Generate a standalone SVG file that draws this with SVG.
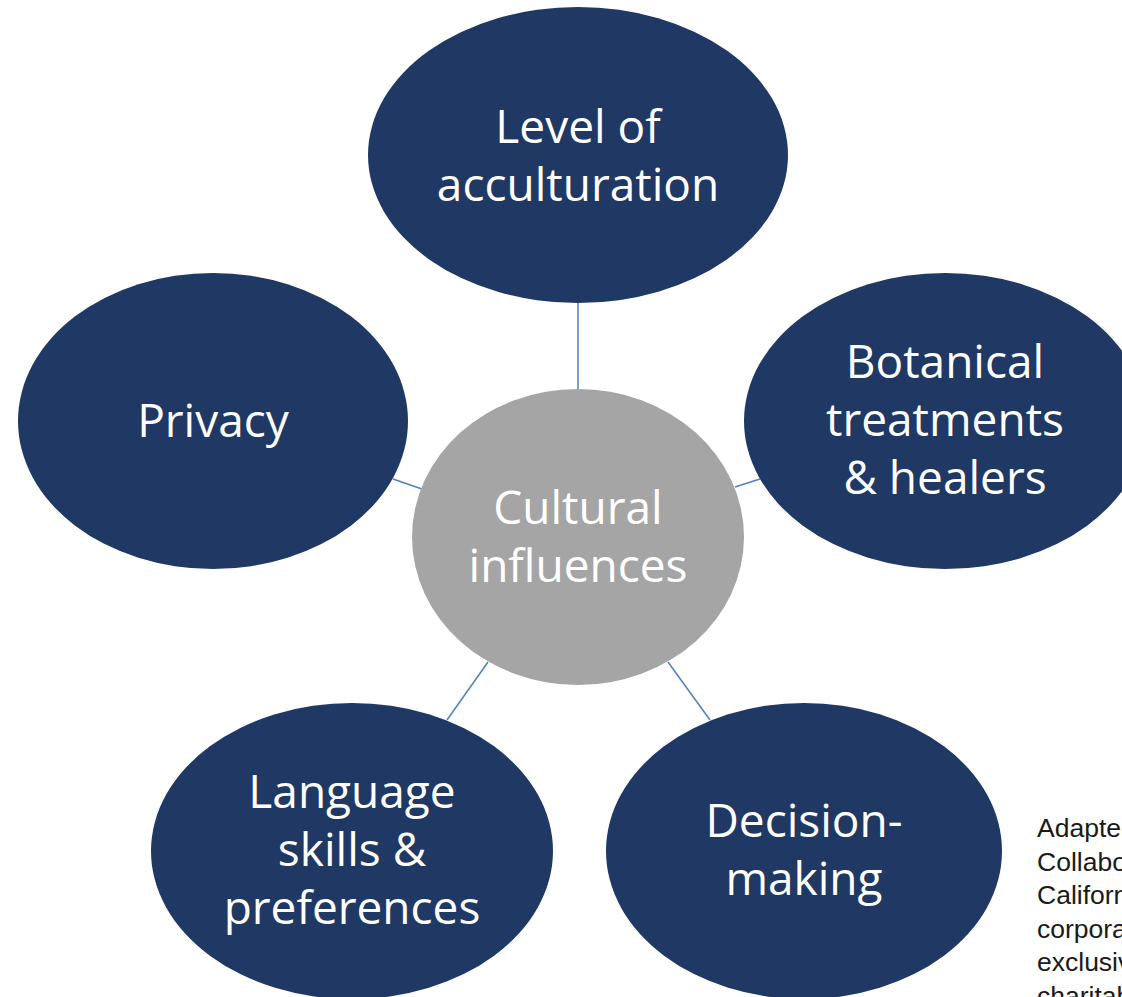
<svg xmlns="http://www.w3.org/2000/svg" width="1122" height="997" viewBox="0 0 1122 997">
<style>
.n{fill:#203864}
.c{fill:#A5A5A5}
.t{font-family:"Open Sans",sans-serif;font-size:46px;fill:#fff;text-anchor:middle}
.f{font-family:"Liberation Sans",Arial,sans-serif;font-size:26.5px;fill:#1a1a1a}
#connectors line{stroke:#4F81BD;stroke-width:1.5}
</style>
<rect width="1122" height="997" fill="#fff"/>
<g id="connectors">
<line x1="578" y1="303" x2="578" y2="390"/>
<line x1="393" y1="479" x2="422" y2="489"/>
<line x1="735" y1="487" x2="760" y2="479"/>
<line x1="488" y1="662" x2="447" y2="720"/>
<line x1="668" y1="662" x2="710" y2="720"/>
</g>
<g id="level">
<ellipse class="n" cx="578" cy="155" rx="210" ry="148"/>
<text class="t" x="578" y="143">Level of</text>
<text class="t" x="578" y="201">acculturation</text>
</g>
<g id="privacy">
<ellipse class="n" cx="213" cy="421" rx="195" ry="148"/>
<text class="t" x="213" y="437">Privacy</text>
</g>
<g id="botanical">
<ellipse class="n" cx="945" cy="421" rx="201" ry="148"/>
<text class="t" x="945" y="378">Botanical</text>
<text class="t" x="945" y="436">treatments</text>
<text class="t" x="945" y="494">&amp; healers</text>
</g>
<g id="center">
<ellipse class="c" cx="578" cy="537" rx="166" ry="148"/>
<text class="t" x="578" y="524">Cultural</text>
<text class="t" x="578" y="582">influences</text>
</g>
<g id="language">
<ellipse class="n" cx="352" cy="851" rx="201" ry="148"/>
<text class="t" x="352" y="808">Language</text>
<text class="t" x="352" y="866">skills &amp;</text>
<text class="t" x="352" y="924">preferences</text>
</g>
<g id="decision">
<ellipse class="n" cx="804" cy="851" rx="198" ry="148"/>
<text class="t" x="804" y="837">Decision-</text>
<text class="t" x="804" y="895">making</text>
</g>
<g id="note">
<text class="f" x="1037" y="837">Adapted</text>
<text class="f" x="1037" y="870.5">Collaborative</text>
<text class="f" x="1037" y="904">California</text>
<text class="f" x="1037" y="937.5">corporation</text>
<text class="f" x="1037" y="971">exclusively</text>
<text class="f" x="1037" y="1004.5">charitable</text>
</g>
</svg>
